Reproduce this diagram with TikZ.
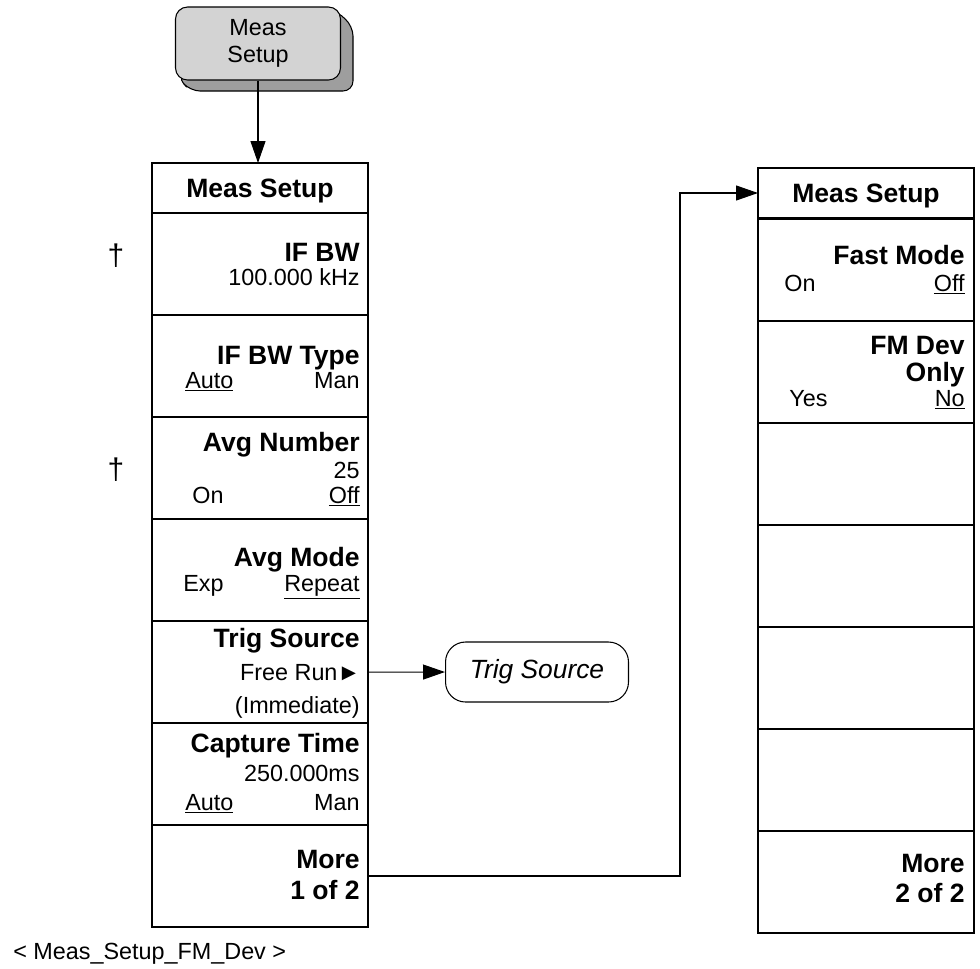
\documentclass[tikz,border=0pt]{standalone}
\usepackage{fontspec}
\setmainfont{Liberation Sans}
\usetikzlibrary{arrows.meta,positioning,calc}
\definecolor{keygray}{RGB}{211,211,211}
\definecolor{keyshade}{RGB}{158,158,158}
\newcommand{\regfont}{\fontsize{13.3}{16}\selectfont}
\newcommand{\keyfont}{\fontsize{15.1}{18}\selectfont\bfseries}
\tikzset{
  softkey/.style={draw, rounded corners=0.24cm, fill=keygray, font=\regfont,
                  minimum width=3.3cm, minimum height=1.46cm, align=center, line width=0.6pt},
  menuhead/.style={draw, anchor=north west, minimum width=4.32cm, minimum height=1.0cm,
                   inner sep=0pt, outer sep=0pt, line width=0.8pt},
  menupanel/.style={draw, anchor=north west, minimum width=4.32cm, minimum height=2.04cm,
                    inner sep=0pt, outer sep=0pt, line width=0.8pt},
  keylbl/.style={anchor=base east, inner sep=0pt, font=\keyfont},
  vallbl/.style={anchor=base east, inner sep=0pt, font=\regfont},
  optlbl/.style={anchor=base west, inner sep=0pt, font=\regfont},
  remlbl/.style={anchor=base, inner sep=0pt, font=\fontsize{17}{20}\selectfont},
  submenu/.style={draw, rounded corners=0.4cm, font=\fontsize{15}{18}\selectfont\itshape,
                  minimum width=3.66cm, minimum height=1.2cm, line width=0.6pt},
  fwdarrow/.style={-{Triangle[length=0.44cm,width=0.3cm]}, line width=0.6pt},
}

\begin{document}
\begin{tikzpicture}[x=0.02cm, y=-0.02cm]
\useasboundingbox (0,0) rectangle (980,968);

% Front panel key
\filldraw[fill=keyshade, line width=0.6pt, rounded corners=0.2cm]
  (334,9) -- (353,26) -- (353,91) -- (190,91) -- (177,76) -- cycle;
\node[softkey] (setupkey) at (258,43.5) {Meas\\[-1pt]Setup};

% Menu 1 of 2
\node[menuhead]  (lhead)    at (152,163) {};
\node[menupanel] (lifbw)    at (152,213) {};
\node[menupanel] (lbwtype)  at (152,315) {};
\node[menupanel] (lavgnum)  at (152,417) {};
\node[menupanel] (lavgmode) at (152,519) {};
\node[menupanel] (ltrig)    at (152,621) {};
\node[menupanel] (lcapt)    at (152,723) {};
\node[menupanel] (lmore)    at (152,825) {};

\node[keylbl] (lheadtxt) at (lhead.center |- 0,197) [anchor=base] {Meas Setup};
\node[keylbl] (ifbw)     at (360,261) {IF BW};
\node[vallbl] (ifbwval)  at (360,285) {100.000 kHz};
\node[keylbl] (bwtype)   at (360,364) {IF BW Type};
\node[optlbl] (bwauto)   at (185,388) {\underline{Auto}};
\node[vallbl] (bwman)    at (360,388) {Man};
\node[keylbl] (avgnum)   at (360,451) {Avg Number};
\node[vallbl] (avgval)   at (360,478) {25};
\node[optlbl] (avgon)    at (192,503) {On};
\node[vallbl] (avgoff)   at (360,503) {\underline{Off}};
\node[keylbl] (avgmode)  at (360,566) {Avg Mode};
\node[optlbl] (avgexp)   at (183,591) {Exp};
\node[vallbl] (avgrep)   at (360,591) {\underline{Repeat}};
\node[keylbl] (trigsrc)  at (360,647) {Trig Source};
\node[vallbl] (freerun)  at (361,680) {Free Run►};
\node[vallbl] (immed)    at (360,713) {(Immediate)};
\node[keylbl] (capt)     at (360,752) {Capture Time};
\node[vallbl] (captval)  at (360,781) {250.000ms};
\node[optlbl] (captauto) at (185,810) {\underline{Auto}};
\node[vallbl] (captman)  at (360,810) {Man};
\node[keylbl] (lmoretxt) at (360,868) {More};
\node[keylbl] (lpage)    at (360,899) {1 of 2};

% remote-only keys
\node[remlbl] (dag1) at (116,265) {†};
\node[remlbl] (dag2) at (116,479) {†};

% Menu 2 of 2
\node[menuhead]  (rhead)   at (758,168) {};
\node[menupanel] (rfast)   at (758,219) {};
\node[menupanel] (rfmdev)  at (758,321) {};
\node[menupanel] (rblanka) at (758,423) {};
\node[menupanel] (rblankb) at (758,525) {};
\node[menupanel] (rblankc) at (758,627) {};
\node[menupanel] (rblankd) at (758,729) {};
\node[menupanel] (rmore)   at (758,831) {};

\node[keylbl] (rheadtxt) at (rhead.center |- 0,202) [anchor=base] {Meas Setup};
\node[keylbl] (fastmode) at (965,264) {Fast Mode};
\node[optlbl] (faston)   at (784,291) {On};
\node[vallbl] (fastoff)  at (965,291) {\underline{Off}};
\node[keylbl] (fmdev)    at (965,354) {FM Dev};
\node[keylbl] (fmonly)   at (965,381) {Only};
\node[optlbl] (fmyes)    at (789,406) {Yes};
\node[vallbl] (fmno)     at (965,406) {\underline{No}};
\node[keylbl] (rmoretxt) at (965,872) {More};
\node[keylbl] (rpage)    at (965,902) {2 of 2};

% Trig source submenu
\node[submenu, anchor=west] (trigmenu) at (445,672) {Trig Source};

% Connectors
\coordinate (bend) at (680,0);
\draw[fwdarrow] (setupkey.south) -- (setupkey.south |- lhead.north);
\draw[fwdarrow] (ltrig.east |- freerun.center) -- (trigmenu.west);
\draw[fwdarrow] (lmore.east) -- (lmore.east -| bend) |- (rhead.west);

% Caption
\node[font=\regfont, anchor=base west, inner sep=0pt] (caption) at (13,959)
  {< Meas\_Setup\_FM\_Dev >};

\end{tikzpicture}
\end{document}
